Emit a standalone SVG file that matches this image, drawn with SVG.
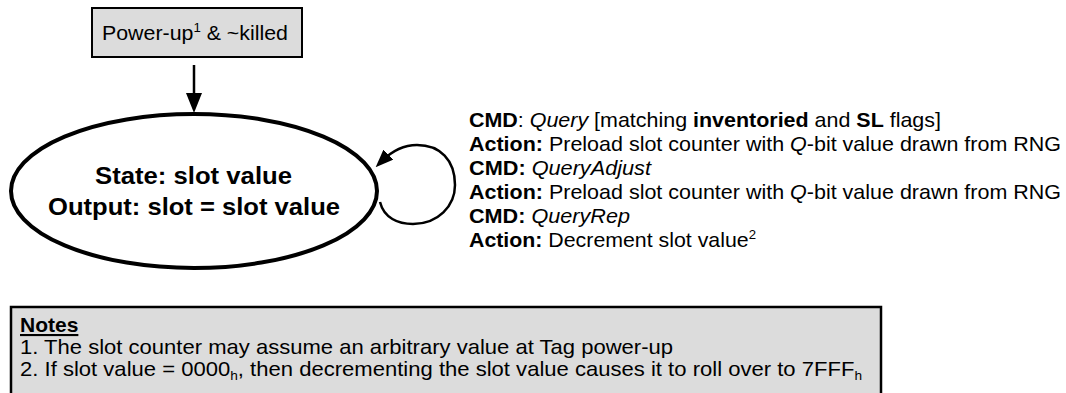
<svg xmlns="http://www.w3.org/2000/svg" width="1066" height="393" viewBox="0 0 1066 393">
<style>
text{font-family:"Liberation Sans",Arial,sans-serif;fill:#000}
.b{font-weight:bold}
.i{font-style:italic}
.t{font-size:21px}
.big{font-size:24px;font-weight:bold}
.conn{fill:none;stroke:#000}
</style>
<defs>
<marker id="ah" viewBox="0 0 20 16" refX="10" refY="8" markerWidth="20" markerHeight="16" markerUnits="userSpaceOnUse" orient="auto">
<path d="M0,0 L20,8 L0,16 z" fill="#000"/>
</marker>
<marker id="ah2" viewBox="0 0 18 14" refX="9" refY="7" markerWidth="18" markerHeight="14" markerUnits="userSpaceOnUse" orient="auto">
<path d="M0,0 L18,7 L0,14 z" fill="#000"/>
</marker>
</defs>
<rect width="1066" height="393" fill="#fff"/>
<g id="powerup">
<rect x="92" y="8" width="210" height="49" fill="#dcdcdc" stroke="#000" stroke-width="2"/>
<text class="t" x="102" y="40" textLength="186" lengthAdjust="spacingAndGlyphs">Power-up<tspan font-size="13" dy="-8">1</tspan><tspan dy="8"> &amp; ~killed</tspan></text>
</g>
<g id="state">
<ellipse cx="194" cy="191" rx="183" ry="77" fill="#fff" stroke="#000" stroke-width="4"/>
<text class="big" x="95" y="184" textLength="197" lengthAdjust="spacingAndGlyphs">State: slot value</text>
<text class="big" x="48" y="215" textLength="292" lengthAdjust="spacingAndGlyphs">Output: slot = slot value</text>
</g>
<g id="connectors">
<line class="conn" x1="194" y1="65" x2="194" y2="103" stroke-width="2.5" marker-end="url(#ah)"/>
<path class="conn" d="M380,202 C384,218 398,224 413,224 C438,224 455,206 455,185 C455,160 440,145 417,145 C403,145 392,151 382,161" stroke-width="2.5" marker-end="url(#ah2)"/>
</g>
<g id="actions" class="t">
<text x="469" y="127" textLength="472" lengthAdjust="spacingAndGlyphs"><tspan class="b">CMD</tspan>: <tspan class="i">Query</tspan> [matching <tspan class="b">inventoried</tspan> and <tspan class="b">SL</tspan> flags]</text>
<text x="469" y="151" textLength="592" lengthAdjust="spacingAndGlyphs"><tspan class="b">Action:</tspan> Preload slot counter with <tspan class="i">Q</tspan>-bit value drawn from RNG</text>
<text x="469" y="175" textLength="182" lengthAdjust="spacingAndGlyphs"><tspan class="b">CMD:</tspan> <tspan class="i">QueryAdjust</tspan></text>
<text x="469" y="199" textLength="592" lengthAdjust="spacingAndGlyphs"><tspan class="b">Action:</tspan> Preload slot counter with <tspan class="i">Q</tspan>-bit value drawn from RNG</text>
<text x="469" y="223" textLength="161" lengthAdjust="spacingAndGlyphs"><tspan class="b">CMD:</tspan> <tspan class="i">QueryRep</tspan></text>
<text x="469" y="247" textLength="287" lengthAdjust="spacingAndGlyphs"><tspan class="b">Action:</tspan> Decrement slot value<tspan font-size="13" dy="-8">2</tspan></text>
</g>
<g id="notes">
<rect x="11" y="307" width="870" height="100" fill="#dcdcdc" stroke="#000" stroke-width="2.5"/>
<text class="t b" x="20" y="332" text-decoration="underline">Notes</text>
<text class="t" x="20" y="354" textLength="653" lengthAdjust="spacingAndGlyphs">1. The slot counter may assume an arbitrary value at Tag power-up</text>
<text class="t" x="20" y="376" textLength="842" lengthAdjust="spacingAndGlyphs">2. If slot value = 0000<tspan font-size="13" dy="4">h</tspan><tspan dy="-4">, then decrementing the slot value causes it to roll over to 7FFF</tspan><tspan font-size="13" dy="4">h</tspan></text>
</g>
</svg>
